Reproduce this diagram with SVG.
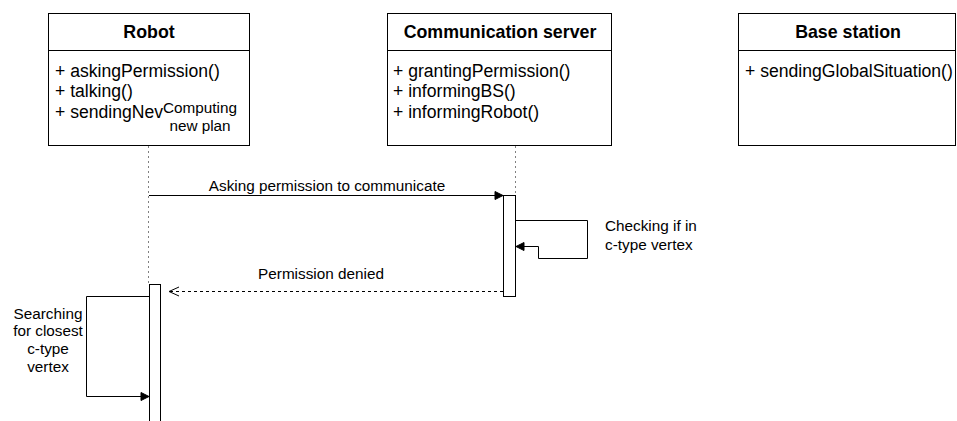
<svg xmlns="http://www.w3.org/2000/svg" width="957" height="421" viewBox="0 0 957 421">
  <style>
    .box { fill: #ffffff; stroke: #000000; stroke-width: 1; }
    .title { font-family: "Liberation Sans", Arial, sans-serif; font-size: 17.8px; font-weight: bold; fill: #000000; text-anchor: middle; }
    .member { font-family: "Liberation Sans", Arial, sans-serif; font-size: 17.6px; fill: #000000; }
    .label { font-family: "Liberation Sans", Arial, sans-serif; font-size: 15.3px; fill: #000000; }
    .mid { text-anchor: middle; }
    .lifeline { stroke: #808080; stroke-width: 1; stroke-dasharray: 2 3; fill: none; }
    .msg { stroke: #000000; stroke-width: 1; fill: none; }
    .dash { stroke-dasharray: 3 3; }
    .act { fill: #ffffff; stroke: #000000; stroke-width: 1; }
  </style>
  <defs>
    <marker id="filled" markerWidth="10" markerHeight="10" refX="9" refY="5" orient="auto" markerUnits="userSpaceOnUse">
      <path d="M1,1 L9,5 L1,9 Z" fill="#000000" stroke="#000000"/>
    </marker>
    <marker id="open" markerWidth="12" markerHeight="12" refX="11" refY="6" orient="auto" markerUnits="userSpaceOnUse">
      <path d="M1,1.5 L11,6 L1,10.5" fill="none" stroke="#000000"/>
    </marker>
  </defs>

  <rect width="957" height="421" fill="#ffffff"/>

  <!-- lifelines -->
  <g id="lifelines">
    <line class="lifeline" x1="148.5" y1="146" x2="148.5" y2="284"/>
    <line class="lifeline" x1="515.5" y1="146" x2="515.5" y2="196"/>
  </g>

  <g id="robot">
    <rect class="box" x="48.5" y="13.5" width="201" height="132"/>
    <line class="box" x1="48.5" y1="50.5" x2="249.5" y2="50.5"/>
    <text class="title" x="149" y="38">Robot</text>
    <text class="member" x="55" y="76.5">+ askingPermission()</text>
    <text class="member" x="55" y="97">+ talking()</text>
    <text class="member" x="55" y="117.5">+ sendingNev</text>
  </g>

  <g id="communication-server">
    <rect class="box" x="387.5" y="13.5" width="224" height="132"/>
    <line class="box" x1="387.5" y1="50.5" x2="611.5" y2="50.5"/>
    <text class="title" x="500" y="38">Communication server</text>
    <text class="member" x="393" y="76.5">+ grantingPermission()</text>
    <text class="member" x="393" y="97">+ informingBS()</text>
    <text class="member" x="393" y="117.5">+ informingRobot()</text>
  </g>

  <g id="base-station">
    <rect class="box" x="738.5" y="13.5" width="217" height="132"/>
    <line class="box" x1="738.5" y1="50.5" x2="955.5" y2="50.5"/>
    <text class="title" x="848" y="38">Base station</text>
    <text class="member" x="745" y="76.5">+ sendingGlobalSituation()</text>
  </g>

  <g id="computing-note">
    <text class="label mid" x="200" y="113">Computing</text>
    <text class="label mid" x="200" y="131">new plan</text>
  </g>

  <!-- activation bars -->
  <g id="server-activation">
    <rect class="act" x="503.5" y="195.5" width="12" height="101"/>
  </g>
  <g id="robot-activation">
    <rect class="act" x="149.5" y="284.5" width="11" height="140"/>
  </g>

  <!-- messages -->
  <g id="connectors">
    <line class="msg" x1="149" y1="195.5" x2="503" y2="195.5" marker-end="url(#filled)"/>
    <polyline class="msg" points="516,220.5 587.5,220.5 587.5,258.5 538.5,258.5 538.5,246.5 516,246.5" marker-end="url(#filled)"/>
    <line class="msg dash" x1="503" y1="291.5" x2="169" y2="291.5" marker-end="url(#open)"/>
    <polyline class="msg" points="149,296.5 86.5,296.5 86.5,396.5 149,396.5" marker-end="url(#filled)"/>
  </g>

  <g id="message-labels">
    <text class="label mid" x="327" y="191">Asking permission to communicate</text>
    <text class="label mid" x="321" y="279">Permission denied</text>
    <text class="label" x="605" y="231">Checking if in</text>
    <text class="label" x="605" y="250">c-type vertex</text>
    <text class="label mid" x="48" y="319">Searching</text>
    <text class="label mid" x="48" y="336">for closest</text>
    <text class="label mid" x="48" y="354">c-type</text>
    <text class="label mid" x="48" y="372">vertex</text>
  </g>
</svg>
